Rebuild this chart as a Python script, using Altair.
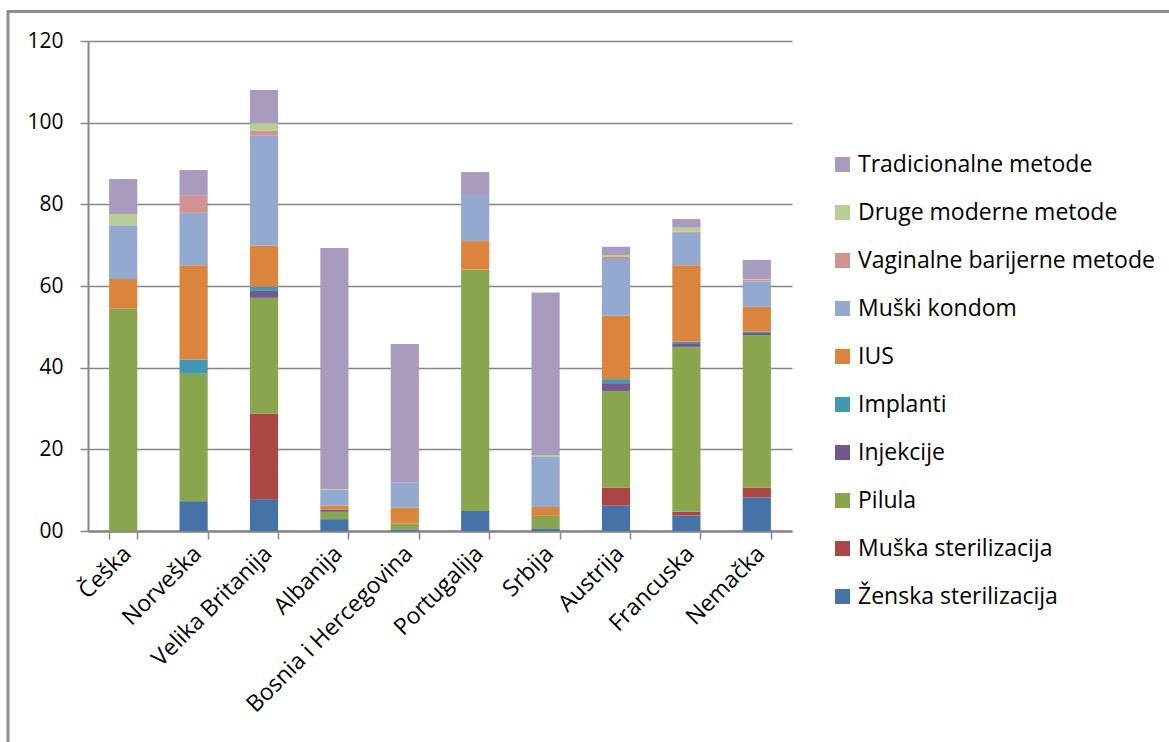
import altair as alt
import pandas as pd

# Countries along the x axis
countries = ["Češka", "Norveška", "Velika Britanija", "Albanija",
             "Bosnia i Hercegovina", "Portugalija", "Srbija", "Austrija",
             "Francuska", "Nemačka"]

# Methods, bottom of the stack first
methods = ["Ženska sterilizacija", "Muška sterilizacija", "Pilula", "Injekcije",
           "Implanti", "IUS", "Muški kondom", "Vaginalne barijerne metode",
           "Druge moderne metode", "Tradicionalne metode"]

colors = ["#4572A7", "#AA4643", "#89A54E", "#71588F", "#4198AF",
          "#DB843D", "#93A9CF", "#D19392", "#B9CD96", "#A99BBD"]

# Shares per method, one value per country (same order as `countries`)
zenska = [0, 7.3, 7.8, 2.9, 0.4, 4.9, 0.5, 6.2, 3.8, 8.2]
muska = [0, 0, 20.9, 0, 0, 0, 0, 4.4, 0.9, 2.4]
pilula = [54.4, 31.2, 28.4, 1.8, 1.4, 59.1, 3.2, 23.7, 40.4, 37.4]
injekcije = [0, 0, 1.7, 0.5, 0, 0, 0, 1.9, 0.9, 0.5]
implanti = [0, 3.5, 1.0, 0, 0, 0, 0, 1.0, 0.4, 0.3]
ius = [7.3, 23.1, 10.1, 1.0, 3.9, 7.0, 2.2, 15.5, 18.7, 6.1]
kondom = [13.2, 12.8, 26.9, 3.9, 6.1, 11.3, 12.2, 13.9, 7.9, 6.2]
vaginalne = [0, 4.2, 1.2, 0, 0, 0, 0, 0.5, 0.3, 0.5]
druge = [2.7, 0, 1.9, 0.2, 0, 0, 0.4, 0.5, 1.0, 0.1]
tradicionalne = [8.6, 6.3, 8.1, 59.0, 34.0, 5.6, 39.9, 2.0, 2.1, 4.7]

series = [zenska, muska, pilula, injekcije, implanti, ius, kondom,
          vaginalne, druge, tradicionalne]

rows = []
for rank, (method, vals) in enumerate(zip(methods, series)):
    for country, v in zip(countries, vals):
        rows.append({"zemlja": country, "metoda": method, "vrednost": v, "red": rank})
df = pd.DataFrame(rows)

FONT = "Open Sans"
GRAY = "#868686"

bars = alt.Chart(df).mark_bar().encode(
    x=alt.X("zemlja:N", sort=countries,
            scale=alt.Scale(paddingInner=0.6, paddingOuter=0.3),
            axis=alt.Axis(title=None, labelAngle=-45, labelAlign="right",
                          labelBaseline="top", labelPadding=3, labelOffset=-4,
                          tickBand="extent", tickSize=8, tickWidth=1.5,
                          tickColor=GRAY, domainColor=GRAY, domainWidth=2.5,
                          labelFontSize=23, labelFont=FONT, labelColor="black",
                          labelOverlap=False, labelLimit=0, grid=False)),
    y=alt.Y("vrednost:Q", stack="zero",
            scale=alt.Scale(domain=[0, 120], nice=False),
            axis=alt.Axis(title=None, values=[0, 20, 40, 60, 80, 100, 120],
                          format="02d", grid=True, gridColor=GRAY, gridWidth=1.3,
                          domainColor=GRAY, domainWidth=2, tickColor=GRAY,
                          tickSize=8, tickWidth=1.5, labelPadding=17,
                          labelFontSize=21, labelFont=FONT, labelColor="black")),
    color=alt.Color("metoda:N",
                    scale=alt.Scale(domain=methods[::-1], range=colors[::-1]),
                    legend=alt.Legend(title=None, orient="none", legendX=743,
                                      legendY=112, symbolType="square",
                                      symbolSize=225, symbolStrokeWidth=0,
                                      symbolOpacity=1, labelFontSize=23,
                                      labelFont=FONT, labelColor="black",
                                      labelOffset=4, rowPadding=24, padding=0,
                                      labelLimit=400)),
    order=alt.Order("red:Q", sort="ascending"),
)

# Gray frame round the whole chart
frame = alt.Chart(pd.DataFrame({"k": [0]})).mark_rect(
    filled=False, stroke="#8C8C8C", strokeWidth=3
).encode(
    x=alt.value(-80), x2=alt.value(1169 - 88 + 30),
    y=alt.value(-29.5), y2=alt.value(742 - 41 + 30),
)

chart = alt.layer(frame, bars).properties(
    width=704, height=490,
    padding={"left": 88, "top": 41, "right": 377, "bottom": 211},
    autosize=alt.AutoSizeParams(type="none"),
    background="white",
).configure_view(stroke=None)

chart.save("out.html", embed_options={"renderer": "svg", "actions": False})
